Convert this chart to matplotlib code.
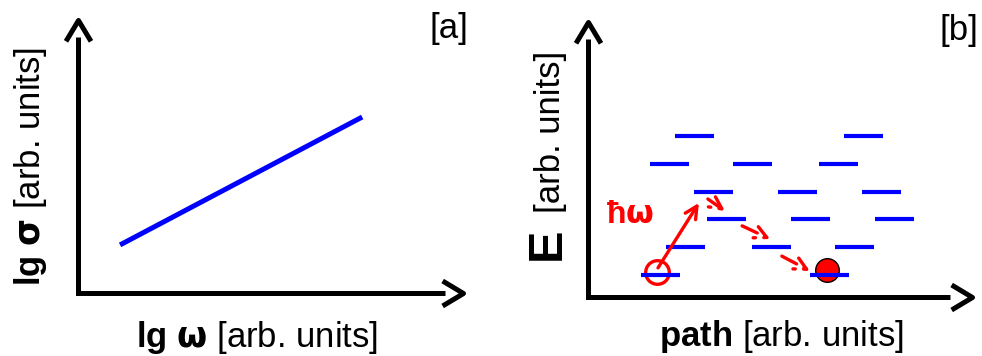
import numpy as np
import matplotlib
matplotlib.use('Agg')
import matplotlib.pyplot as plt
from matplotlib.path import Path
from matplotlib.markers import MarkerStyle

# panel [a]: conductivity vs frequency, log-log (axes run 0..1)
lg_omega = [0.109, 0.729]
lg_sigma = [0.173, 0.633]

# panel [b]: localized energy levels along the path (level centres)
level_x = [0.275, 0.708,
           0.210, 0.423, 0.645,
           0.323, 0.539, 0.756,
           0.357, 0.572, 0.788,
           0.252, 0.472, 0.686,
           0.187, 0.621]
level_y = [0.575, 0.575,
           0.475, 0.475, 0.475,
           0.375, 0.375, 0.375,
           0.280, 0.280, 0.280,
           0.180, 0.180, 0.180,
           0.080, 0.080]

# carrier: empty start state, final occupied state
start_xy = (0.178, 0.090)
end_xy = (0.614, 0.095)

# photon absorption and the hops that follow
photon_from = (0.181, 0.104)
photon_to = (0.286, 0.336)
hop_from = [(0.309, 0.350), (0.397, 0.254), (0.499, 0.146)]
hop_to = [(0.353, 0.307), (0.469, 0.207), (0.571, 0.093)]

plt.rcParams['font.family'] = ['Liberation Sans', 'DejaVu Sans']
plt.rcParams['mathtext.fontset'] = 'custom'
plt.rcParams['mathtext.rm'] = 'Liberation Sans'
plt.rcParams['mathtext.bf'] = 'Liberation Sans:bold'
plt.rcParams['mathtext.it'] = 'Liberation Sans:italic'
plt.rcParams['mathtext.sf'] = 'DejaVu Sans:bold'

W, H = 982, 356


def fx(px):
    return px / W


def fy(py):
    return 1 - py / H


up_head = Path([(-0.6, -1), (0, 0), (0.6, -1)],
               [Path.MOVETO, Path.LINETO, Path.LINETO])
right_head = Path([(-1, 0.6), (0, 0), (-1, -0.6)],
                  [Path.MOVETO, Path.LINETO, Path.LINETO])


def arrow_axes(ax, xend, yend, dx, dy):
    ax.set_xlim(0, 1)
    ax.set_ylim(0, 1)
    ax.axis('off')
    ax.plot([0, 0, xend], [yend, 0, 0], color='black', lw=3.6,
            solid_joinstyle='miter', solid_capstyle='butt', clip_on=False)
    for x, y, p in [(1 - dx, 0, right_head), (0, 1 - dy, up_head)]:
        ax.plot([x], [y], marker=MarkerStyle(p, joinstyle='miter', capstyle='butt'),
                ms=30, mfc='none', mec='black', mew=3.6, clip_on=False)


fig = plt.figure(figsize=(9.82, 3.56), dpi=100)
ax_a = fig.add_axes([fx(77.5), fy(293), (468 - 77.5) / W, (293 - 15) / H])
ax_b = fig.add_axes([fx(587.5), fy(297), (977 - 587.5) / W, (297 - 17) / H])

arrow_axes(ax_a, 0.94, 0.92, 5 / 390.5, 5 / 278)
arrow_axes(ax_b, 0.93, 0.92, 5 / 389.5, 5 / 280)

# [a]
ax_a.plot(lg_omega, lg_sigma, color='blue', lw=3.6, solid_capstyle='butt')

# [b]
ax_b.plot(*start_xy, 'o', ms=17, mfc='none', mec='red', mew=2.4, zorder=2)
ax_b.plot(*end_xy, 'o', ms=17, mfc='red', mec='black', mew=1.0, zorder=2)
lx = np.array(level_x)
ax_b.hlines(level_y, lx - 0.05, lx + 0.05, color='blue', lw=3, zorder=3)

ax_b.annotate('', xy=photon_to, xytext=photon_from,
              arrowprops=dict(arrowstyle='->', color='red', lw=2.4,
                              mutation_scale=22, shrinkA=0, shrinkB=0),
              zorder=4)
for a, b in zip(hop_from, hop_to):
    ax_b.annotate('', xy=b, xytext=a,
                  arrowprops=dict(arrowstyle='->', color='red', lw=2.4,
                                  linestyle=(0, (5, 2.5)),
                                  mutation_scale=22, shrinkA=0, shrinkB=0),
                  zorder=4)
ax_b.text(0.109, 0.293, r'ħ$\mathsf{\omega}$', color='red', fontsize=23,
          fontweight='bold', ha='center', va='center')

# labels
fig.text(fx(257.5), fy(347), r'$\mathbf{lg}$ $\mathsf{\omega}$ [arb. units]',
         fontsize=25, ha='center', va='baseline')
fig.text(fx(40), fy(166.5), r'$\mathbf{lg}$ $\mathsf{\sigma}$ [arb. units]',
         fontsize=25, rotation=90, rotation_mode='anchor', ha='center', va='baseline')
fig.text(fx(781.5), fy(346), r'$\mathbf{path}$ [arb. units]',
         fontsize=25, ha='center', va='baseline')
fig.text(fx(560), fy(243.5), 'E', fontsize=35, fontweight='bold',
         rotation=90, rotation_mode='anchor', ha='center', va='baseline')
fig.text(fx(560), fy(131.5), '[arb. units]', fontsize=25,
         rotation=90, rotation_mode='anchor', ha='center', va='baseline')
fig.text(fx(468), fy(38), '[a]', fontsize=25, ha='right', va='baseline')
fig.text(fx(978), fy(40), '[b]', fontsize=25, ha='right', va='baseline')

fig.savefig('out.png', dpi=100)
